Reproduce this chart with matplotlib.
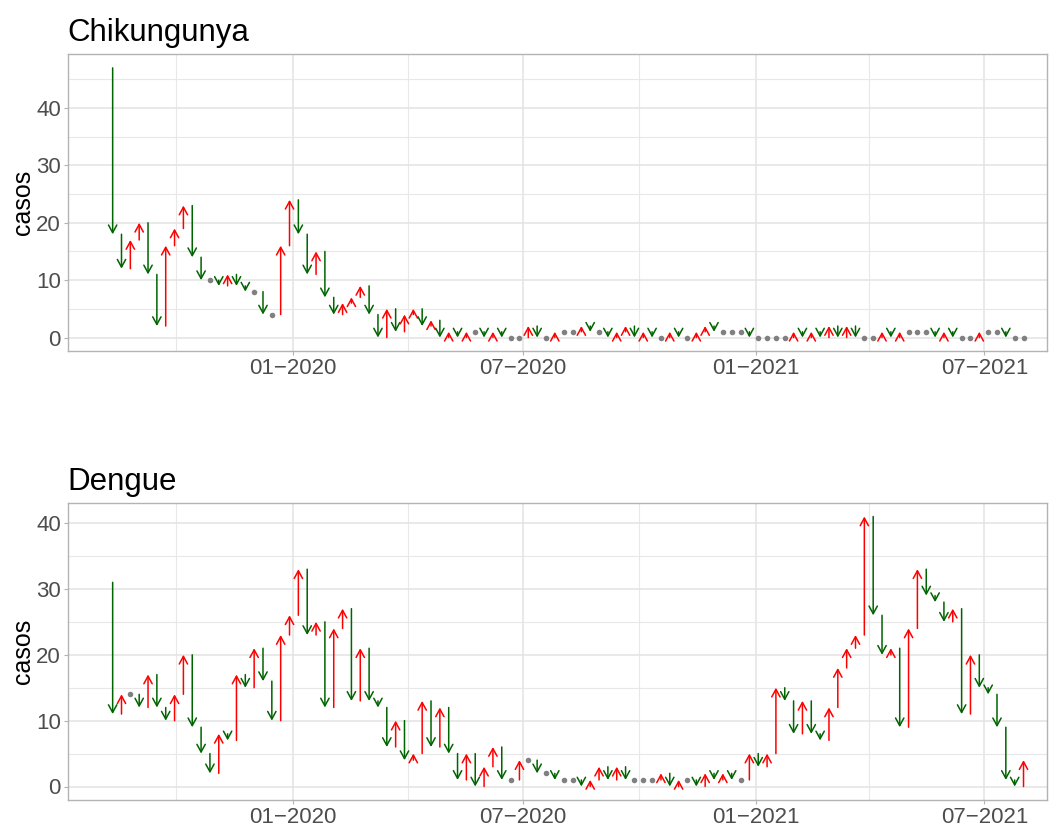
import numpy as np
import pandas as pd
import matplotlib
matplotlib.use("Agg")
import matplotlib.pyplot as plt
import matplotlib.dates as mdates

plt.rcParams["font.family"] = ["Liberation Sans", "DejaVu Sans"]

# semanas epidemiologicas (a primeira serve so como valor de partida)
semanas = pd.date_range("2019-08-04", periods=105, freq="7D")

chik = [47, 18, 12, 17, 20, 11, 2, 16, 19, 23, 14, 10, 10,
        9, 11, 9, 8, 8, 4, 4,
        16, 24, 18, 11, 15, 7, 4, 6, 7, 9, 4, 0,
        5, 1, 4, 5, 2, 3, 0, 1, 0, 1, 1, 0, 1, 0, 0, 0, 2, 0, 0, 1,
        1, 1, 2, 1, 1, 0, 1, 2, 0, 1, 0, 0, 1, 0, 0, 1, 2, 1,
        1, 1, 1, 0, 0, 0, 0, 0, 1, 0, 1, 0, 2, 0, 2, 0, 0, 0,
        1, 0, 1, 1, 1, 1, 0, 1, 0, 0, 0, 1, 1, 1, 0, 0, 0]

dengue = [31, 11, 14, 14, 12, 17, 12, 10, 14, 20, 9, 5, 2, 8, 7, 17, 15,
          21, 16, 10, 23, 26, 33, 23, 25, 12, 24, 27, 13, 21, 13, 12, 6, 10,
          4, 5, 13, 6, 12, 5, 1, 5, 0, 3, 6, 1, 1, 4, 4, 2, 2, 1, 1, 1,
          0, 1, 3, 1, 3, 1, 1, 1, 1, 2, 0, 1, 1, 0, 2, 1,
          2, 1, 1, 5, 3, 5, 15, 13, 8, 13, 8, 7, 12, 18, 21, 23, 41, 26,
          20, 21, 9, 24, 33, 29, 28, 25, 27, 11, 20, 15, 14, 9, 1, 0, 4]

titulos = ["Chikungunya", "Dengue"]
x_ticks = ["2020-01-01", "2020-07-01", "2021-01-01", "2021-07-01"]
x_labels = ["01\u22122020", "07\u22122020", "01\u22122021", "07\u22122021"]
x_minor = ["2019-09-30 12:00", "2020-03-31 12:00", "2020-09-30 12:00", "2021-04-01"]
x_lim = ["2019-07-06 10:00", "2021-08-19 14:00"]

W, H = 1055, 825
fig = plt.figure(figsize=(W / 100, H / 100), dpi=100)
ax_top = fig.add_axes((67.7 / W, 1 - 351 / H, (1047 - 67.7) / W, 296.6 / H))
ax_bot = fig.add_axes((67.7 / W, 1 - 800 / H, (1047 - 67.7) / W, 297 / H))

xs = mdates.date2num(semanas.to_pydatetime())


def painel(ax, serie, titulo):
    for i in range(1, len(serie)):
        y0, y1 = serie[i - 1], serie[i]
        if y1 == y0:
            ax.scatter(xs[i], y1, s=16, color="#808080", lw=0, zorder=3)
        else:
            cor = "red" if y1 > y0 else "darkgreen"
            ax.annotate("", xy=(xs[i], y1), xytext=(xs[i], y0),
                        arrowprops=dict(arrowstyle="->,head_length=0.55,head_width=0.3",
                                        color=cor, lw=1.1, shrinkA=0, shrinkB=0,
                                        mutation_scale=10), zorder=3)

    lo, hi = min(serie), max(serie)
    pad = 0.05 * (hi - lo)
    ax.set_ylim(lo - pad, hi + pad)
    ax.set_xlim(mdates.datestr2num(x_lim[0]), mdates.datestr2num(x_lim[1]))

    ax.set_xticks([mdates.datestr2num(d) for d in x_ticks])
    ax.set_xticklabels(x_labels)
    ax.set_xticks([mdates.datestr2num(d) for d in x_minor], minor=True)
    ax.set_yticks(np.arange(0, hi + pad, 10))
    ax.set_yticks(np.arange(5, hi + pad, 10), minor=True)

    ax.grid(which="major", color="#E3E3E3", lw=1.1)
    ax.grid(which="minor", color="#E8E8E8", lw=0.8)
    ax.set_axisbelow(True)
    for s in ax.spines.values():
        s.set_color("#B3B3B3")
        s.set_linewidth(1.0)
    ax.tick_params(which="major", length=2.75, width=0.8, color="#B3B3B3",
                   labelsize=16, labelcolor="#4D4D4D", pad=2.2)
    ax.tick_params(which="minor", length=0)

    ax.set_title(titulo, loc="left", fontsize=22.5, pad=9.5, color="black")
    ax.set_ylabel("casos", fontsize=18, color="black")
    ax.yaxis.set_label_coords(-0.033, 0.5)


painel(ax_top, chik, titulos[0])
painel(ax_bot, dengue, titulos[1])

fig.savefig("out.png", dpi=100)
